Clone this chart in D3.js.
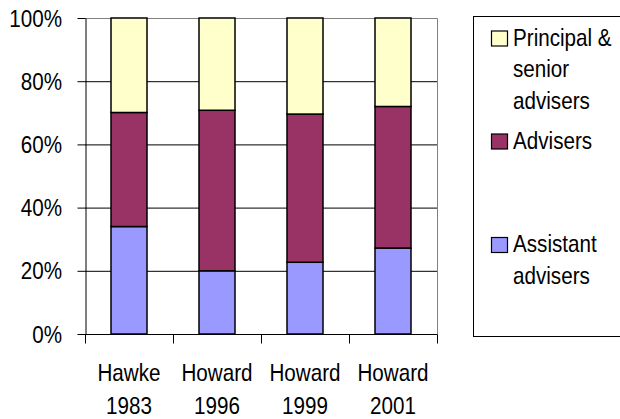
<!DOCTYPE html>
<html>
<head>
<meta charset="utf-8">
<script src="https://cdn.jsdelivr.net/npm/d3@7"></script>
<style>
  html, body { margin: 0; padding: 0; background: #fff; }
  svg { display: block; }
  text { font-family: "Liberation Sans", Arial, sans-serif; font-size: 24px; fill: #000; }
</style>
</head>
<body>
<svg id="chart" width="620" height="419"></svg>
<script>
// Staff composition by government (percent of total)
const categories = [["Hawke", "1983"], ["Howard", "1996"], ["Howard", "1999"], ["Howard", "2001"]];
const assistantAdvisers = [34, 20, 22.7, 27.2];
const advisers = [36.1, 50.8, 46.9, 44.8];
const principalSenior = [29.9, 29.2, 30.4, 28.0];
const yTicks = [0, 20, 40, 60, 80, 100];

const seriesNames = ["Assistant advisers", "Advisers", "Principal & senior advisers"];
const seriesColors = ["#9999FF", "#993366", "#FFFFCC"];
const legendLines = [["Principal &", "senior", "advisers"], ["Advisers"], ["Assistant", "advisers"]];

const svg = d3.select("#chart");
const plot = { left: 85, right: 437, top: 18, bottom: 334 };
const narrow = 0.86;

// horizontally condensed label, like a narrow face
function label(parent, px, py, str, anchor) {
  return parent.append("g")
    .attr("transform", `translate(${px},${py}) scale(${narrow},1)`)
    .append("text").attr("text-anchor", anchor || "start").text(str);
}

const keys = categories.map(c => c.join(" "));
const x = d3.scaleBand().domain(keys).range([plot.left, plot.right]).paddingInner(0).paddingOuter(0);
const y = d3.scaleLinear().domain([0, 100]).range([plot.bottom, plot.top]);

// Gridlines
svg.append("g").selectAll("line").data(yTicks.filter(t => t > 0 && t < 100)).join("line")
  .attr("x1", plot.left).attr("x2", plot.right)
  .attr("y1", d => y(d) + 0.5).attr("y2", d => y(d) + 0.5)
  .attr("stroke", "#000").attr("stroke-width", 1);

// Plot area border (top and right)
svg.append("path")
  .attr("d", `M${plot.left},${y(100) + 0.5}H${plot.right + 0.5}V${plot.bottom}`)
  .attr("fill", "none").attr("stroke", "#808080").attr("stroke-width", 1);

// Stacked bars
const rows = keys.map((k, i) => ({ key: k, a: assistantAdvisers[i], b: advisers[i], c: principalSenior[i] }));
const layers = d3.stack().keys(["a", "b", "c"])(rows);
const barW = 36;
svg.append("g").selectAll("g").data(layers).join("g")
  .attr("fill", (d, i) => seriesColors[i])
  .selectAll("rect").data(d => d).join("rect")
  .attr("x", d => x(d.data.key) + x.bandwidth() / 2 - barW / 2)
  .attr("width", barW)
  .attr("y", d => y(d[1]))
  .attr("height", d => y(d[0]) - y(d[1]))
  .attr("stroke", "#000").attr("stroke-width", 1.5);

// Y axis: line and tick marks from the axis generator, labels condensed
const yAxis = svg.append("g").attr("transform", `translate(${plot.left + 0.5},0)`)
  .call(d3.axisLeft(y).tickValues(yTicks).tickFormat("").tickSizeInner(8).tickSizeOuter(0));
yAxis.select(".domain").attr("stroke", "#000");
yAxis.selectAll(".tick line").attr("stroke", "#000");
yAxis.selectAll(".tick text").remove();
const yLabels = svg.append("g");
yTicks.forEach(t => label(yLabels, 62, y(t) + 8.6, t + "%", "end"));

// X axis
const xAxis = svg.append("g").attr("transform", `translate(0,${plot.bottom + 0.5})`);
xAxis.append("line").attr("x1", plot.left).attr("x2", plot.right + 0.5).attr("stroke", "#000");
const bounds = keys.map(k => x(k)).concat([plot.right]);
xAxis.selectAll("line.tk").data(bounds).join("line").attr("class", "tk")
  .attr("x1", d => d + 0.5).attr("x2", d => d + 0.5).attr("y1", 0).attr("y2", 9).attr("stroke", "#000");
categories.forEach((c, i) => {
  const cx = x(keys[i]) + x.bandwidth() / 2;
  c.forEach((line, j) => label(xAxis, cx, 46.5 + j * 33, line, "middle"));
});

// Legend
const legend = svg.append("g");
legend.append("rect").attr("x", 473.5).attr("y", 16.5).attr("width", 160).attr("height", 320)
  .attr("fill", "#fff").attr("stroke", "#000").attr("stroke-width", 1);
const legendBase = [45.5, 148.5, 252];
const order = [2, 1, 0];
order.forEach((si, j) => {
  const base = legendBase[j];
  legend.append("rect").attr("x", 491.5).attr("y", base - 14.5).attr("width", 16).attr("height", 15)
    .attr("fill", seriesColors[si]).attr("stroke", "#000").attr("stroke-width", 1.2)
    .append("title").text(seriesNames[si]);
  legendLines[j].forEach((line, k) => label(legend, 513, base + k * 31.7, line, "start"));
});
</script>
</body>
</html>
